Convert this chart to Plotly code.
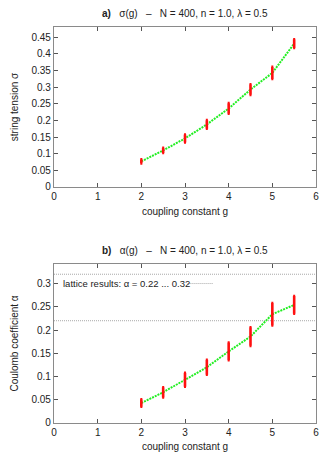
import plotly.graph_objects as go
from plotly.subplots import make_subplots

# coupling constant g
g = [2.0, 2.5, 3.0, 3.5, 4.0, 4.5, 5.0, 5.5]

# a) string tension sigma(g)
sigma = [0.077, 0.110, 0.146, 0.188, 0.236, 0.293, 0.343, 0.431]
sigma_err = [0.006, 0.008, 0.012, 0.013, 0.016, 0.016, 0.018, 0.013]

# b) Coulomb coefficient alpha(g)
alpha = [0.043, 0.066, 0.093, 0.120, 0.154, 0.186, 0.234, 0.254]
alpha_err = [0.008, 0.011, 0.015, 0.016, 0.019, 0.020, 0.024, 0.019]

# lattice results band for alpha
lattice = [0.22, 0.32]

FONT = "Liberation Sans, Arial, sans-serif"
TXT = "#222222"
FRAME = "#8a8a8a"
GRAYDOT = "#a8a8a8"

fig = make_subplots(rows=2, cols=1, vertical_spacing=0.0)

for val in lattice:
    fig.add_trace(go.Scatter(
        x=[0, 6], y=[val, val], mode="lines",
        line=dict(color=GRAYDOT, width=1, dash="1px,1px"),
        showlegend=False, hoverinfo="skip",
    ), row=2, col=1)

for row, y, err in [(1, sigma, sigma_err), (2, alpha, alpha_err)]:
    # green dotted connecting line
    fig.add_trace(go.Scatter(
        x=g, y=y, mode="lines",
        line=dict(color="#22ee22", width=2, dash="2px,1px"),
        showlegend=False, hoverinfo="skip",
    ), row=row, col=1)
    # red error bars on top
    fig.add_trace(go.Scatter(
        x=g, y=y, mode="markers",
        marker=dict(size=1, color="#ff1010"),
        error_y=dict(type="data", array=err, color="#ff1010", thickness=2.6, width=1),
        showlegend=False, hoverinfo="x+y",
    ), row=row, col=1)

# legend-like label inside panel b
fig.add_annotation(
    x=0.025, y=0.30, xref="x2 domain", yref="y2", xanchor="left", yanchor="middle",
    text="lattice results: α = 0.22 ... 0.32", showarrow=False,
    font=dict(family=FONT, size=9.5, color=TXT),
)
fig.add_shape(type="line", xref="x2 domain", yref="y2", x0=0.51, x1=0.607, y0=0.30, y1=0.30,
              line=dict(color=GRAYDOT, width=1, dash="1px,1px"))

SP = "&nbsp;&nbsp; "
titles = [
    (f"<b>a)</b>{SP}σ(g){SP}–{SP}N = 400, n = 1.0, λ = 0.5", "x domain", "y domain"),
    (f"<b>b)</b>{SP}α(g){SP}–{SP}N = 400, n = 1.0, λ = 0.5", "x2 domain", "y2 domain"),
]
for text, xref, yref in titles:
    fig.add_annotation(x=0.5, y=1.0, xref=xref, yref=yref, yshift=6, yanchor="bottom",
                       text=text, showarrow=False,
                       font=dict(family=FONT, size=10, color=TXT))

axis_style = dict(
    showline=True, linecolor=FRAME, linewidth=1.2, mirror="ticks",
    ticks="inside", ticklen=4, tickcolor="#555555", showgrid=False, zeroline=False,
    tickfont=dict(family=FONT, size=10, color=TXT), automargin=False,
)

fig.update_xaxes(range=[0, 6], dtick=1, **axis_style)
fig.update_xaxes(title=dict(text="coupling constant g", font=dict(family=FONT, size=10, color=TXT), standoff=6))
fig.update_yaxes(dtick=0.05, **axis_style)
fig.update_yaxes(range=[0, 0.481], title=dict(text="string tension σ", standoff=10,
                 font=dict(family=FONT, size=10, color=TXT)), row=1, col=1)
fig.update_yaxes(range=[0, 0.342], title=dict(text="Coulomb coefficient α", standoff=10,
                 font=dict(family=FONT, size=10, color=TXT)), row=2, col=1)

# the page body adds an 8px offset, so the figure is sized to fit inside the window
fig.update_layout(
    width=319, height=444,
    margin=dict(l=46, r=11, t=19, b=29),
    paper_bgcolor="white", plot_bgcolor="white",
    font=dict(family=FONT, size=10, color=TXT),
)
fig.layout.yaxis.domain = [0.596, 1.0]
fig.layout.yaxis2.domain = [0.0, 0.4015]

fig.write_html("out.html")
